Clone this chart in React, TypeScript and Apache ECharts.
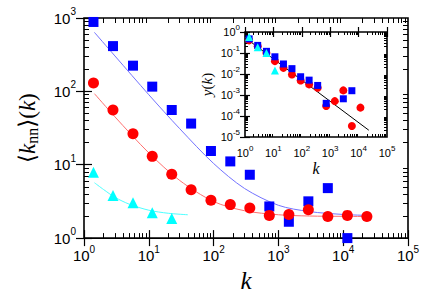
import React, { useEffect, useRef } from 'react';
import * as echarts from 'echarts';

// ---------- data ----------
const kMain = [1.4, 2.8, 5.7, 11.3, 22.6, 45, 91, 181, 362, 724, 1450, 2900, 5790, 11600, 23200];
const blueMain = [883, 414, 224, 116, 55.7, 36.4, 15.4, 11.1, 7.3, 2.7, 1.67, 3.17, 4.8, 1.0];
const redMain = [130, 55.8, 26.5, 13.0, 7.43, 4.57, 3.29, 2.86, 2.57, 2.04, 2.09, 2.44, 1.97, 2.04, 1.97];
const cyanMain = [7.9, 3.82, 3.04, 2.21, 1.85];

const blueFitK = [1.45, 3, 10, 30, 100, 300, 1000, 3000, 10000, 23000];
const blueFitV = [636, 304, 90, 31, 10.4, 4.75, 2.8, 2.3, 2.1, 2.04];
const redFitK = [1.45, 3, 10, 30, 100, 300, 1000, 3000, 10000, 23000];
const redFitV = [93, 45, 14.5, 6.1, 3.15, 2.36, 2.08, 2.0, 1.98, 1.97];
const cyanFitK = [1.45, 2, 3, 5, 10, 20, 40];
const cyanFitV = [5.68, 4.6, 3.6, 2.9, 2.4, 2.18, 2.08];

const insetRedK = [1.4, 2.8, 5.7, 11.3, 22.6, 45, 91, 181, 362, 724, 1450, 2900, 5790, 11600];
const insetRed = [0.4, 0.21, 0.1, 0.041, 0.0196, 0.0095, 0.0049, 0.0032, 0.0022, 0.0003, 0.00051, 0.00166, 0.0000337, 0.00025];
const insetBlueK = [1.4, 2.8, 5.7, 11.3, 22.6, 45, 91, 181, 362, 724, 2900, 5790];
const insetBlue = [0.47, 0.23, 0.12, 0.066, 0.03, 0.018, 0.0074, 0.0051, 0.00285, 0.0004, 0.00066, 0.0016];
const insetCyanK = [1.4, 2.8, 5.7, 11.3];
const insetCyan = [0.58, 0.186, 0.1, 0.0147];
const insetFitK = [1.15, 22900];
const insetFitV = [0.47, 0.000021];

// ---------- helpers ----------
const SANS = '"Liberation Sans", Arial, Helvetica, sans-serif';
const SERIF = '"Liberation Serif", "DejaVu Serif", "Times New Roman", serif';

const zip = (xs: number[], ys: number[]) => ys.map((y, i) => [xs[i], y]);

const minorTicks = (from: number, to: number) => {
  const out: number[] = [];
  for (let d = from; d < to; d++) for (let m = 2; m <= 9; m++) out.push(d + Math.log10(m));
  return out;
};

const powLabel = (v: number) => {
  const e = Math.round(Math.log10(v));
  return `{b|10}{s|${e}}`;
};

const rich = (big: number, small: number, raise: number) => ({
  b: { fontSize: big, fontFamily: SANS, color: '#000' },
  s: { fontSize: small, fontFamily: SANS, color: '#000', padding: [0, 0, raise, 0] },
});

const logAxis = (
  gridIndex: number,
  position: string,
  min: number,
  max: number,
  tickLen: number,
  label: any,
  extra: any = {}
) => ({
  type: 'log',
  logBase: 10,
  gridIndex,
  position,
  min,
  max,
  axisLine: { show: false },
  axisTick: { show: true, inside: true, length: tickLen, lineStyle: { color: '#000', width: 1.2 } },
  minorTick: { show: false },
  splitLine: { show: false },
  axisLabel: label ? label : { show: false },
  ...extra,
});

const minorAxis = (gridIndex: number, position: string, min: number, max: number, tickLen: number) => ({
  type: 'value',
  gridIndex,
  position,
  min,
  max,
  axisLine: { show: false },
  axisTick: {
    show: true,
    inside: true,
    length: tickLen,
    customValues: minorTicks(min, max),
    lineStyle: { color: '#000', width: 1 },
  },
  axisLabel: { show: false },
  splitLine: { show: false },
  silent: true,
});

export default function App() {
  const ref = useRef<HTMLDivElement>(null);

  useEffect(() => {
    const chart = echarts.init(ref.current!, null, { renderer: 'svg', width: 425, height: 298 });

    const mainXLabel = { formatter: powLabel, rich: rich(15, 10, 13), margin: 6 };
    const mainYLabel = { formatter: powLabel, rich: rich(15, 10, 13), margin: 8 };
    const insetXLabel = { formatter: powLabel, rich: rich(11, 8, 9), margin: 7 };
    const insetYLabel = { formatter: powLabel, rich: rich(11, 8, 9), margin: 5 };

    const option: any = {
      animation: false,
      backgroundColor: '#fff',
      grid: [
        { left: 84, top: 18, width: 324, height: 232, show: true, borderColor: '#000', borderWidth: 1.6, backgroundColor: 'transparent' },
        { left: 245, top: 32, width: 142, height: 105, show: true, borderColor: '#000', borderWidth: 1.6, backgroundColor: '#fff' },
      ],
      xAxis: [
        logAxis(0, 'bottom', 1, 1e5, 8, mainXLabel, {
          name: '{i|k}',
          nameLocation: 'middle',
          nameGap: 22,
          nameTextStyle: { rich: { i: { fontFamily: SERIF, fontStyle: 'italic', fontSize: 25, color: '#000' } } },
        }),
        logAxis(0, 'top', 1, 1e5, 8, null),
        minorAxis(0, 'bottom', 0, 5, 5),
        minorAxis(0, 'top', 0, 5, 5),
        logAxis(1, 'bottom', 1, 1e5, 5, insetXLabel, {
          name: '{i|k}',
          nameLocation: 'middle',
          nameGap: 23,
          nameTextStyle: { rich: { i: { fontFamily: SERIF, fontStyle: 'italic', fontSize: 16, color: '#000' } } },
        }),
        logAxis(1, 'top', 1, 1e5, 5, null),
        minorAxis(1, 'bottom', 0, 5, 3),
        minorAxis(1, 'top', 0, 5, 3),
      ],
      yAxis: [
        logAxis(0, 'left', 1, 1000, 8, mainYLabel, {
          name: '{n|⟨}{i|k}{sub|nn}{n|⟩(}{i|k}{n|)}',
          nameLocation: 'middle',
          nameGap: 44,
          nameTextStyle: {
            rich: {
              n: { fontFamily: SERIF, fontSize: 23, color: '#000' },
              i: { fontFamily: SERIF, fontStyle: 'italic', fontSize: 23, color: '#000' },
              sub: { fontFamily: SERIF, fontSize: 16, color: '#000', padding: [10, 0, 0, 0] },
            },
          },
        }),
        logAxis(0, 'right', 1, 1000, 8, null),
        minorAxis(0, 'left', 0, 3, 5),
        minorAxis(0, 'right', 0, 3, 5),
        logAxis(1, 'left', 1e-5, 1, 5, insetYLabel, {
          name: '{i|y}{n|(}{i|k}{n|)}',
          nameLocation: 'middle',
          nameGap: 31,
          nameTextStyle: {
            rich: {
              n: { fontFamily: SERIF, fontSize: 15, color: '#000' },
              i: { fontFamily: SERIF, fontStyle: 'italic', fontSize: 15, color: '#000' },
            },
          },
        }),
        logAxis(1, 'right', 1e-5, 1, 5, null),
        minorAxis(1, 'left', -5, 0, 3),
        minorAxis(1, 'right', -5, 0, 3),
      ],
      series: [
        // main fits
        { type: 'line', xAxisIndex: 0, yAxisIndex: 0, data: zip(blueFitK, blueFitV), smooth: 0.3, showSymbol: false, symbol: 'none', lineStyle: { color: '#7373ff', width: 1 }, z: 2 },
        { type: 'line', xAxisIndex: 0, yAxisIndex: 0, data: zip(redFitK, redFitV), smooth: 0.3, showSymbol: false, symbol: 'none', lineStyle: { color: '#ff6f6f', width: 1 }, z: 2 },
        { type: 'line', xAxisIndex: 0, yAxisIndex: 0, data: zip(cyanFitK, cyanFitV), smooth: 0.3, showSymbol: false, symbol: 'none', lineStyle: { color: '#4dffff', width: 1 }, z: 2 },
        // main points
        { type: 'scatter', xAxisIndex: 0, yAxisIndex: 0, data: zip(kMain, blueMain), symbol: 'rect', symbolSize: 10, itemStyle: { color: '#0000ff', opacity: 1 }, z: 3 },
        { type: 'scatter', xAxisIndex: 0, yAxisIndex: 0, data: zip(kMain, redMain), symbol: 'circle', symbolSize: 11, itemStyle: { color: '#ff0000', opacity: 1 }, z: 4 },
        { type: 'scatter', xAxisIndex: 0, yAxisIndex: 0, data: zip(kMain, cyanMain), symbol: 'triangle', symbolSize: 11, itemStyle: { color: '#00ffff', opacity: 1 }, z: 5 },
        // inset
        { type: 'line', xAxisIndex: 4, yAxisIndex: 4, data: zip(insetFitK, insetFitV), showSymbol: false, symbol: 'none', lineStyle: { color: '#000', width: 1 }, z: 6 },
        { type: 'scatter', xAxisIndex: 4, yAxisIndex: 4, data: zip(insetRedK, insetRed), symbol: 'circle', symbolSize: 8, itemStyle: { color: '#ff0000', opacity: 1 }, z: 7 },
        { type: 'scatter', xAxisIndex: 4, yAxisIndex: 4, data: zip(insetBlueK, insetBlue), symbol: 'rect', symbolSize: 7, itemStyle: { color: '#0000ff', opacity: 1 }, z: 8 },
        { type: 'scatter', xAxisIndex: 4, yAxisIndex: 4, data: zip(insetCyanK, insetCyan), symbol: 'triangle', symbolSize: 8, itemStyle: { color: '#00ffff', opacity: 1 }, z: 9 },
      ],
    };

    chart.setOption(option);
    return () => chart.dispose();
  }, []);

  return (
    <div
      ref={ref}
      style={{ position: 'fixed', left: 0, top: 0, width: 425, height: 298, background: '#fff' }}
    />
  );
}
